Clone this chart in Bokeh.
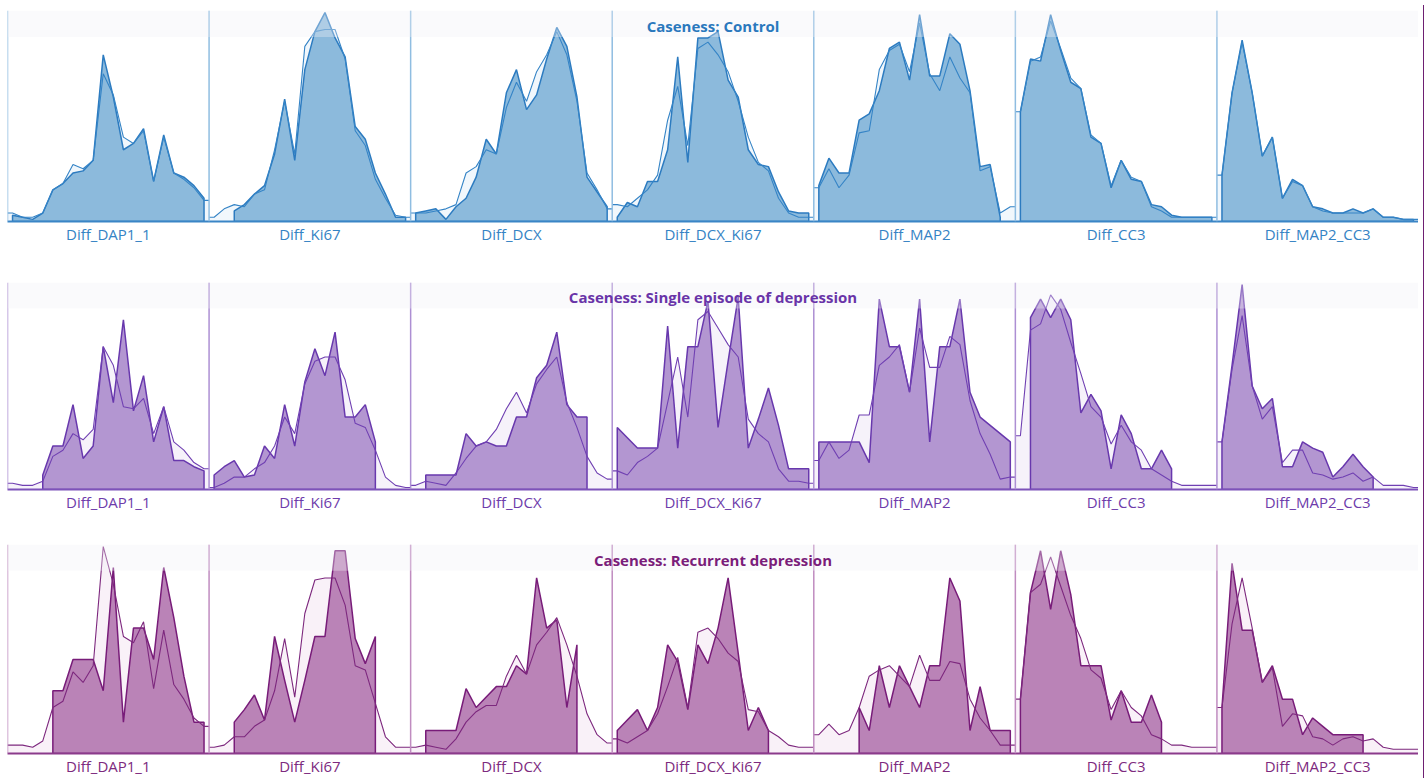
import numpy as np
from bokeh.plotting import figure
from bokeh.models import Range1d, FixedTicker, Span, BoxAnnotation, Label, Div
from bokeh.layouts import column, row
from bokeh.embed import file_html
from bokeh.resources import INLINE

categories = ["Diff_DAP1_1", "Diff_Ki67", "Diff_DCX", "Diff_DCX_Ki67",
              "Diff_MAP2", "Diff_CC3", "Diff_MAP2_CC3"]
groups = ["Control", "Single episode of depression", "Recurrent depression"]

# values: share of panel height (0-100) at 20 bin centres per panel
control_hist = [
    [3, 2, 1, 4, 15, 18, 23, 24, 29, 79, 59, 34, 37, 44, 19, 41, 23, 21, 17, 11],
    [None, None, 5, 8, 13, 17, 32, 58, 29, 72, 90, 99, 87, 78, 45, 39, 23, 13, 2, 2],
    [4, 5, 6, 1, 7, 11, 21, 39, 32, 61, 72, 53, 60, 77, 92, 83, 59, 21, 14, 7],
    [2, 9, 7, 19, 19, 34, 78, 28, 87, 87, 90, 67, 59, 34, 27, 26, 14, 5, 4, 4],
    [17, 30, 23, 23, 48, 51, 62, 82, 85, 67, 98, 69, 69, 89, 84, 62, 26, 27, 2, None],
    [52, 77, 76, 98, 81, 66, 63, 40, 37, 16, 29, 20, 19, 8, 7, 3, 2, 2, 2, 2],
    [22, 61, 86, 61, 31, 40, 11, 20, 17, 7, 6, 4, 4, 6, 4, 6, 2, 2, 1, 1],
]
control_density = [
    [4, 2, 2, 4, 15, 18, 27, 25, 29, 70, 60, 40, 37, 43, 19, 40, 23, 20, 16, 10],
    [2, 6, 8, 7, 13, 15, 34, 57, 32, 83, 90, 91, 91, 77, 43, 36, 20, 11, 3, 2],
    [4, 4, 5, 6, 8, 23, 26, 34, 32, 54, 66, 57, 71, 79, 90, 79, 57, 23, 15, 6],
    [8, 7, 11, 15, 22, 48, 64, 36, 82, 85, 79, 71, 57, 40, 28, 24, 11, 4, 2, 2],
    [16, 25, 16, 22, 42, 43, 72, 81, 84, 71, 94, 70, 62, 78, 68, 61, 24, 26, 4, 7],
    [52, 76, 78, 95, 82, 68, 63, 41, 37, 17, 29, 21, 19, 7, 5, 2, 2, 2, 2, 2],
    [22, 61, 85, 61, 31, 40, 11, 19, 17, 7, 5, 4, 4, 4, 4, 6, 2, 2, 1, 1],
]
single_hist = [
    [None, None, None, 7, 21, 21, 41, 15, 21, 69, 42, 82, 38, 55, 23, 40, 14, 14, 11, 9],
    [7, 11, 14, 6, 7, 21, 15, 41, 21, 52, 68, 55, 76, 35, 35, 41, 23, None, None, None],
    [None, 7, 7, 7, 7, 27, 21, 23, 21, 21, 35, 35, 54, 60, 76, 41, 35, 35, None, None],
    [30, 25, 20, 20, 20, 79, 20, 69, 69, 91, 30, 62, 93, 20, 34, 49, 31, 10, 10, 10],
    [23, 23, 23, 23, 23, 13, 92, 69, 69, 47, 92, 23, 69, 69, 92, 47, 35, 31, 27, 23],
    [None, 83, 92, 83, 92, 82, 37, 46, 38, 10, 36, 27, 10, 10, 19, 10, None, None, None, None],
    [23, 60, 99, 50, 39, 44, 11, 11, 23, 20, 18, 6, 11, 17, 11, 6, None, None, None, None],
]
single_density = [
    [3, 2, 2, 4, 16, 19, 27, 24, 29, 69, 60, 40, 39, 44, 27, 40, 23, 19, 13, 10],
    [1, 3, 6, 6, 10, 13, 21, 35, 27, 51, 62, 64, 64, 53, 32, 30, 19, 6, 2, 1],
    [2, 4, 3, 2, 8, 15, 21, 23, 29, 39, 47, 37, 51, 58, 64, 42, 30, 16, 8, 5],
    [9, 7, 13, 16, 20, 42, 64, 35, 82, 86, 78, 70, 64, 34, 27, 23, 10, 4, 4, 3],
    [14, 23, 15, 19, 36, 36, 60, 64, 70, 47, 78, 59, 59, 74, 70, 43, 27, 17, 5, 6],
    [26, 77, 80, 94, 87, 71, 56, 40, 35, 22, 31, 23, 19, 10, 7, 4, 2, 2, 2, 2],
    [23, 58, 84, 50, 34, 40, 13, 19, 19, 8, 7, 5, 6, 8, 4, 6, 2, 2, 2, 1],
]
recurrent_hist = [
    [None, None, None, None, 30, 30, 45, 45, 45, 30, 89, 15, 60, 60, 45, 89, 65, 37, 15, 15],
    [None, None, 15, 21, 28, 16, 56, 35, 15, 35, 56, 56, 97, 97, 55, 43, 56, None, None, None],
    [None, 11, 11, 11, 11, 31, 22, 27, 32, 32, 42, 38, 84, 60, 64, 22, 52, None, None, None],
    [11, 16, 21, 11, 22, 52, 44, 21, 52, 43, 60, 84, 48, 11, 22, 11, None, None, None, None],
    [None, None, None, None, 22, 11, 42, 22, 42, 32, 22, 42, 42, 84, 73, 11, 32, 11, 11, 11],
    [26, 77, 97, 69, 97, 76, 42, 42, 42, 16, 30, 15, 15, 28, 15, None, None, None, None, None],
    [22, 91, 59, 59, 34, 42, 26, 26, 9, 17, 13, 9, 9, 9, 9, None, None, None, None, None],
]
recurrent_density = [
    [4, 4, 3, 6, 22, 25, 39, 34, 42, 99, 81, 56, 53, 63, 31, 59, 33, 26, 17, 13],
    [3, 4, 8, 8, 13, 16, 30, 55, 27, 67, 83, 84, 84, 71, 42, 40, 24, 8, 3, 3],
    [3, 4, 3, 2, 7, 15, 20, 23, 23, 37, 47, 38, 52, 58, 65, 52, 37, 19, 9, 5],
    [7, 5, 8, 11, 19, 32, 46, 22, 58, 60, 55, 48, 44, 21, 20, 11, 8, 4, 3, 3],
    [9, 14, 9, 11, 22, 37, 40, 42, 37, 32, 47, 35, 35, 44, 43, 26, 17, 11, 4, 4],
    [26, 77, 81, 94, 80, 66, 55, 40, 36, 21, 30, 22, 18, 9, 7, 4, 4, 3, 3, 3],
    [22, 62, 84, 60, 34, 41, 13, 19, 18, 8, 7, 4, 7, 8, 6, 7, 3, 2, 2, 2],
]

styles = [
    dict(fill="#8cbadc", line="#2c7bc0", dline="#3584c6", dfill="#f1f7fc",
         title="#2a78bd", label="#3583c4", vline="#8fbde1", axis="#3a85c6"),
    dict(fill="#b396d1", line="#6838ad", dline="#7040b2", dfill="#f6f2fa",
         title="#6934a8", label="#6e3cab", vline="#ad8fd3", axis="#7d52b9"),
    dict(fill="#ba83b7", line="#781c79", dline="#7d287e", dfill="#f9f1f8",
         title="#7a1d7a", label="#7d2a7e", vline="#c08cc0", axis="#8b3b8b"),
]
rows_data = [(control_hist, control_density), (single_hist, single_density),
             (recurrent_hist, recurrent_density)]
# (figure height, top border, bottom border)
geom = [(260, 10, 39), (258, 22, 29), (260, 26, 10)]

FIG_W = 1418
LEFT = 7
nb = 20


def make_row(gname, hist, dens, st, g):
    h, top, bottom = g
    p = figure(width=FIG_W, height=h, x_range=Range1d(0, len(categories)),
               y_range=Range1d(0, 100), output_backend="svg", toolbar_location=None,
               min_border_left=LEFT, min_border_right=0, min_border_top=top,
               min_border_bottom=bottom, y_axis_location=None)
    p.xgrid.visible = False
    p.ygrid.visible = False
    p.outline_line_color = None
    p.background_fill_color = "white"
    p.border_fill_color = "white"

    for i, cat in enumerate(categories):
        centers = list(i + (np.arange(nb) + 0.5) / nb)
        d = dens[i]
        xs = [i, i] + centers + [i + 1, i + 1]
        ys = [0, d[0]] + d + [d[-1], 0]
        p.patch(xs, ys, fill_color=st["dfill"], line_color=None)
    for i, cat in enumerate(categories):
        centers = list(i + (np.arange(nb) + 0.5) / nb)
        hv = hist[i]
        idx = [k for k, v in enumerate(hv) if v is not None]
        hx = [centers[idx[0]]] + [centers[k] for k in idx] + [centers[idx[-1]]]
        hy = [0] + [hv[k] for k in idx] + [0]
        p.patch(hx, hy, fill_color=st["fill"], line_color=st["line"], line_width=1.5)
    for i, cat in enumerate(categories):
        centers = list(i + (np.arange(nb) + 0.5) / nb)
        d = dens[i]
        p.line([i] + centers + [i + 1], [d[0]] + d + [d[-1]],
               line_color=st["dline"], line_width=1.1)

    for i in range(len(categories)):
        p.add_layout(Span(location=i, dimension="height", line_color=st["vline"],
                          line_width=1.5))
    p.add_layout(BoxAnnotation(bottom=87.5, top=100, fill_color="#f0f0f5",
                               fill_alpha=0.35, line_color=None))
    p.add_layout(Label(x=len(categories) / 2, y=92.8, text=f"Caseness: {gname}",
                       text_align="center", text_baseline="middle",
                       text_font="Open Sans", text_font_style="bold",
                       text_font_size="15px", text_color=st["title"]))

    ax = p.xaxis[0]
    ax.ticker = FixedTicker(ticks=[i + 0.5 for i in range(len(categories))])
    ax.major_label_overrides = {i + 0.5: c for i, c in enumerate(categories)}
    ax.major_tick_line_color = None
    ax.minor_tick_line_color = None
    ax.major_tick_out = 0
    ax.major_tick_in = 0
    ax.axis_line_color = st["axis"]
    ax.axis_line_width = 2
    ax.major_label_text_font = "Open Sans"
    ax.major_label_text_font_size = "15px"
    ax.major_label_text_color = st["label"]
    ax.major_label_standoff = 2
    return p


figs = [make_row(groups[r], rows_data[r][0], rows_data[r][1], styles[r], geom[r])
        for r in range(3)]
total_h = sum(g[0] for g in geom)
strip = Div(width=6, height=total_h, styles={"background-color": "#6e1f72"})
layout = row(column(*figs), strip)

open("out.html", "w").write(file_html(layout, INLINE))
